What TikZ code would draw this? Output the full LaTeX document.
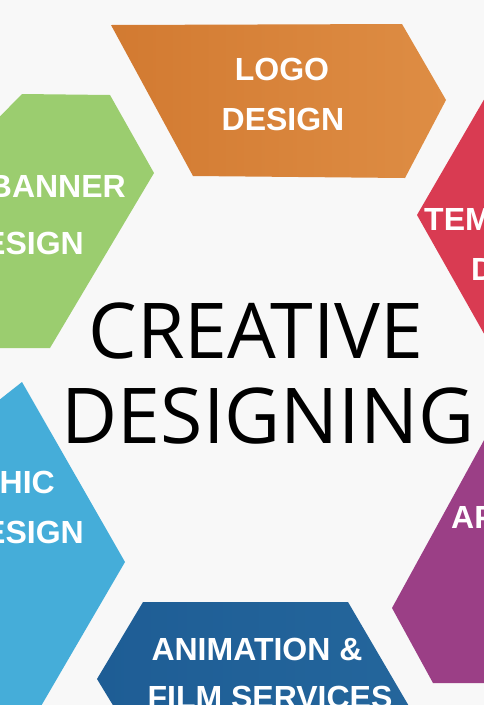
\documentclass[tikz,border=0pt]{standalone}
\usepackage{fontspec}
\usepackage{tikz}
\newfontfamily\lblfam{Liberation Sans}
\newfontfamily\ttlfam{Open Sans}
\definecolor{pagebg}{HTML}{F8F8F8}
\definecolor{logoL}{HTML}{D27A31}
\definecolor{logoR}{HTML}{DE8D44}
\definecolor{bannerc}{HTML}{9BCD6F}
\definecolor{templc}{HTML}{D93B52}
\definecolor{appc}{HTML}{9B3F86}
\definecolor{graphc}{HTML}{45ADD9}
\definecolor{animL}{HTML}{1E5D95}
\definecolor{animR}{HTML}{24669C}
\tikzset{
  lbl/.style   = {font=\lblfam\bfseries\fontsize{32}{38}\selectfont, text=white, inner sep=0pt},
  ttl/.style   = {font=\ttlfam\fontsize{77}{85}\selectfont, text=black, inner sep=0pt}
}

\begin{document}
\begin{tikzpicture}[x=1pt,y=-1pt]
  \useasboundingbox (0,0) rectangle (484,705);
  \fill[pagebg] (0,0) rectangle (484,705);
  \clip (0,0) rectangle (484,705);
  % the six petals round the title
  \shade[left color=logoL,right color=logoR]
        (111,25) -- (402,24) -- (446,100) -- (405,178) -- (193,176) -- cycle;
  \fill[bannerc] (22,94) -- (110,95) -- (154,173) -- (50,348) -- (-30,348) -- (-30,147) -- cycle;
  \fill[templc]  (500,72) -- (417,215) -- (500,362) -- cycle;
  \fill[appc]    (500,411) -- (392,608) -- (433,683) -- (500,683) -- cycle;
  \fill[graphc]  (22,382) -- (125,562) -- (30,725) -- (-30,725) -- (-30,423) -- cycle;
  \shade[left color=animL,right color=animR]
        (143,602) -- (348,602) -- (420,725) -- (125,725) -- (97,679) -- cycle;
  % labels
  \node[lbl,anchor=base] (logoa) at (282,80)  {LOGO};
  \node[lbl,anchor=base] (logob) at (283,130) {DESIGN};
  \node[lbl,anchor=base east] (bannera) at (126,197) {BANNER};
  \node[lbl,anchor=base east] (bannerb) at (84,254)  {DESIGN};
  \node[lbl,anchor=base west] (templa) at (424,230) {TEMPLATE};
  \node[lbl,anchor=base west] (templb) at (471,280) {DESIGN};
  \node[lbl,anchor=base west] (appa) at (451,528) {APP};
  \node[lbl,anchor=base east] (grapha) at (55,493)  {GRAPHIC};
  \node[lbl,anchor=base east] (graphb) at (84,543)  {DESIGN};
  \node[lbl,anchor=base] (anima) at (257,660) {ANIMATION \&};
  \node[lbl,anchor=base] (animb) at (270,708) {FILM SERVICES};
  % title
  \node[ttl,anchor=base] (ttla) at (256,358) {CREATIVE};
  \node[ttl,anchor=base] (ttlb) at (268,443) {DESIGNING};
\end{tikzpicture}
\end{document}
